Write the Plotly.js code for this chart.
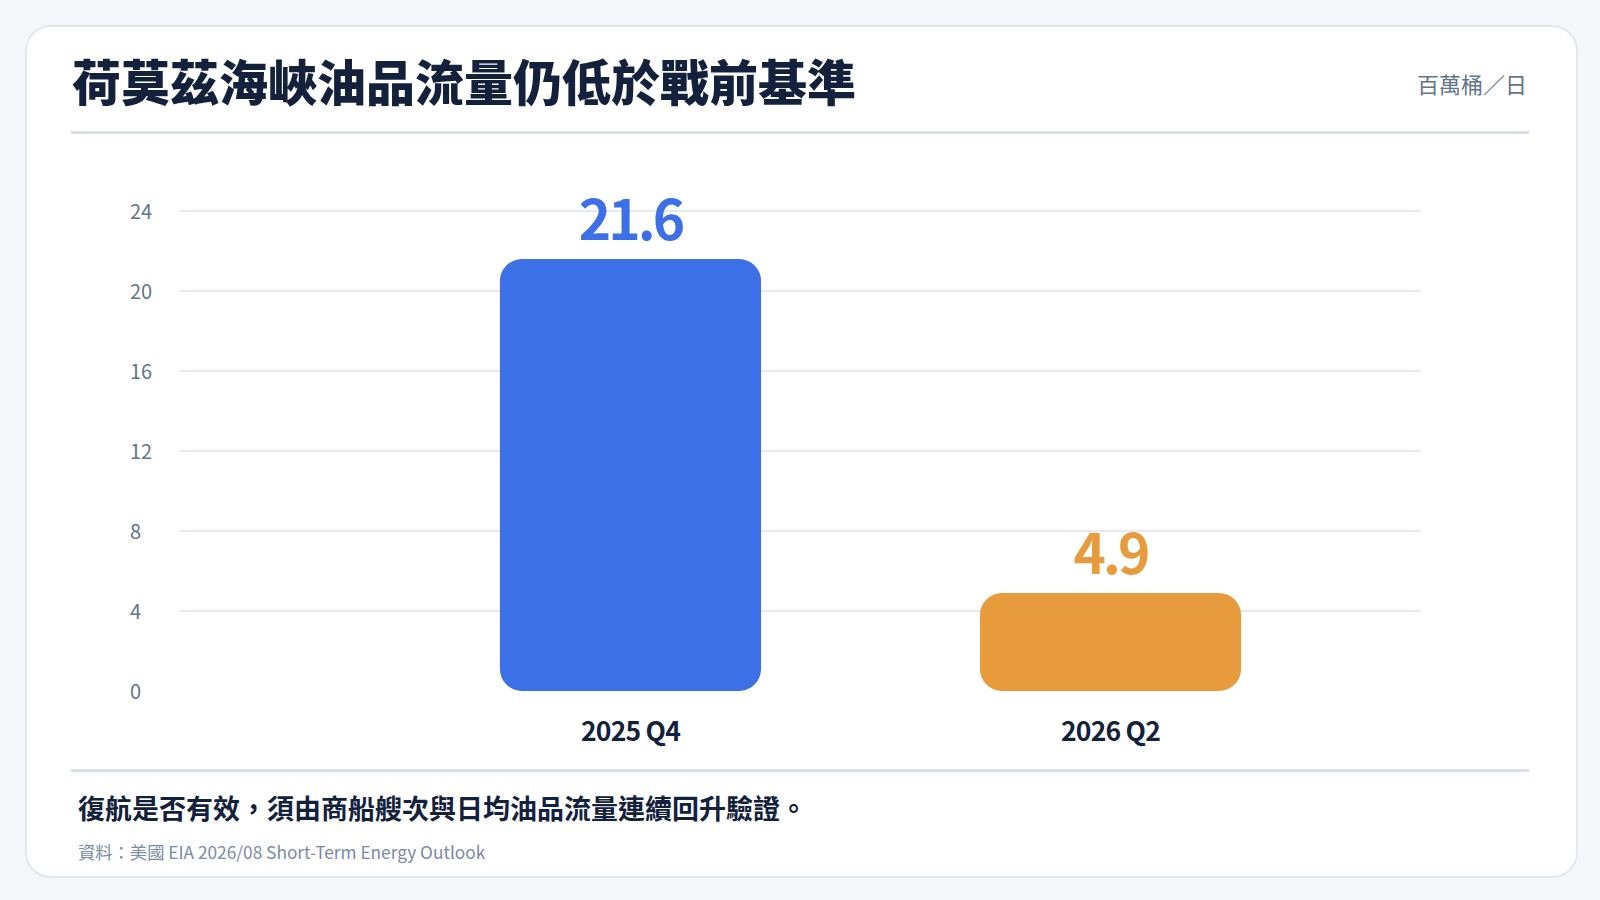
<!DOCTYPE html>
<html lang="zh-Hant">
<head>
<meta charset="utf-8">
<script src="https://cdn.plot.ly/plotly-3.0.1.min.js"></script>
<style>
  html, body { margin:0; padding:0; width:1600px; height:900px; overflow:hidden; background:#f4f6fa; font-family:"Noto Sans CJK TC","Noto Sans",sans-serif; }
  .card { position:absolute; left:25px; top:25px; width:1549px; height:849px; background:#ffffff; border:2px solid #e3e7ee; border-radius:26px; }
  .abs { position:absolute; white-space:nowrap; line-height:1; }
  #title { left:72px; top:55px; font-size:49px; font-weight:800; color:#14213d; }
  #unit { right:73px; top:72px; font-size:22px; color:#64748b; }
  .rule { position:absolute; left:71px; width:1458px; height:3px; background:#d9dfe9; }
  #note { left:78px; top:794px; font-size:27px; font-weight:700; color:#14213d; }
  #src { left:78px; top:843px; font-size:17.3px; color:#7b8aa5; }
  #chart { position:absolute; left:0; top:0; width:1600px; height:900px; }
  #chart .bartext text, #chart text.bartext { letter-spacing:-3px; }
  #chart .xtick text { letter-spacing:-0.8px; }
</style>
</head>
<body>
<div class="card"></div>
<div class="abs" id="title">荷莫茲海峽油品流量仍低於戰前基準</div>
<div class="abs" id="unit">百萬桶／日</div>
<div class="rule" style="top:131px"></div>
<div class="rule" style="top:769px"></div>
<div class="abs" id="note">復航是否有效，須由商船艘次與日均油品流量連續回升驗證。</div>
<div class="abs" id="src">資料：美國 EIA 2026/08 Short-Term Energy Outlook</div>
<div id="chart"></div>
<script>
const categories = ["2025 Q4", "2026 Q2"];
const values = [21.6, 4.9];
const valueLabels = ["21.6", "4.9"];
const barColors = ["#3d6fe7", "#e89b3d"];
const yTicks = [0, 4, 8, 12, 16, 20, 24];

const FONT = '"Noto Sans CJK TC", "Noto Sans", sans-serif';

const bars = {
  type: 'bar',
  x: categories,
  y: values,
  base: values.map(() => 0),
  width: 0.544,
  marker: { color: barColors, line: { width: 0 } },
  text: valueLabels,
  textposition: 'outside',
  constraintext: 'none',
  cliponaxis: false,
  textfont: { family: FONT, size: 55, color: barColors, weight: 700 },
  hoverinfo: 'skip',
  showlegend: false
};

// y tick labels, left-aligned like the reference, placed on the y scale
const yLabelAnnotations = yTicks.map(v => ({
  xref: 'paper', x: -0.0422,
  yref: 'y', y: v,
  yshift: 1,
  text: String(v),
  showarrow: false,
  xanchor: 'left', yanchor: 'middle',
  font: { family: FONT, size: 20, color: '#64748b' }
}));

const layout = {
  width: 1600,
  height: 900,
  margin: { l: 180, r: 179, t: 209, b: 209, pad: 0 },
  paper_bgcolor: 'rgba(0,0,0,0)',
  plot_bgcolor: 'rgba(0,0,0,0)',
  barcornerradius: 22,
  showlegend: false,
  font: { family: FONT, color: '#64748b' },
  annotations: yLabelAnnotations,
  xaxis: {
    type: 'category',
    range: [-0.9385, 1.6469],
    showgrid: false,
    zeroline: false,
    showline: false,
    ticks: '',
    ticklabelstandoff: 22,
    tickfont: { family: FONT, size: 26.5, color: '#14213d', weight: 700 },
    fixedrange: true
  },
  yaxis: {
    range: [0, 24.1],
    tickvals: yTicks,
    showticklabels: false,
    showgrid: true,
    gridcolor: '#e4e8ef',
    gridwidth: 2,
    zeroline: false,
    showline: false,
    ticks: '',
    fixedrange: true
  }
};

Plotly.newPlot('chart', [bars], layout, { displayModeBar: false, staticPlot: true });
</script>
</body>
</html>
